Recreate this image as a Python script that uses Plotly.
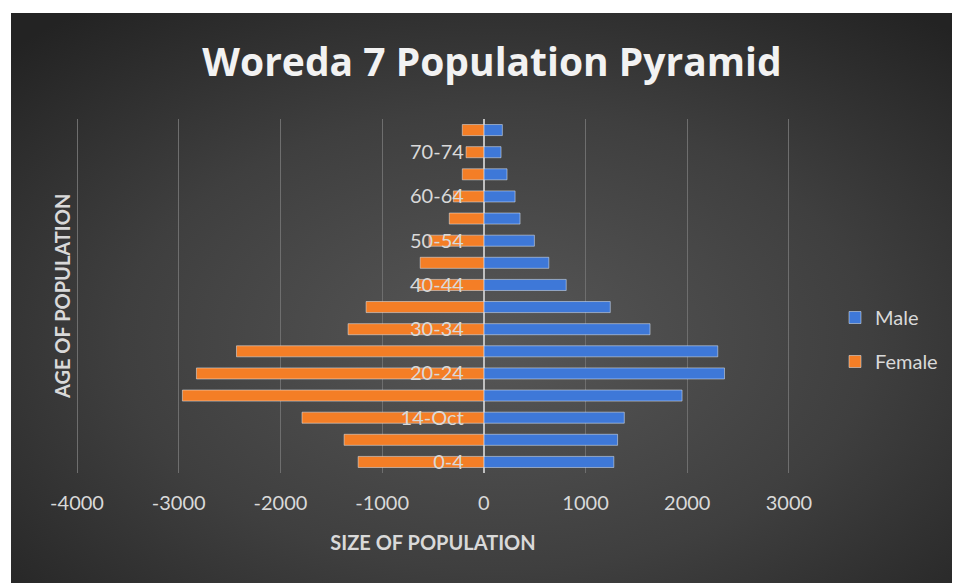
import base64
import plotly.graph_objects as go

age_groups = ["0-4", "5-9", "14-Oct", "15-19", "20-24", "25-29", "30-34", "35-39",
              "40-44", "45-49", "50-54", "55-59", "60-64", "65-69", "70-74", "75+"]
male = [1278, 1315, 1381, 1949, 2366, 2300, 1634, 1243,
        810, 639, 497, 356, 307, 228, 169, 182]
female = [1236, 1374, 1788, 2964, 2826, 2432, 1335, 1158,
          640, 626, 540, 340, 300, 212, 175, 212]
x_ticks = [-4000, -3000, -2000, -1000, 0, 1000, 2000, 3000]

FONT = "Lato, 'Open Sans', sans-serif"
TEXT = "#D9D9D9"

# page body has an 8px margin, so the figure is laid out 8px in from the window
W, H = 952, 575
L, R, T, B = 67, 783, 111, 465
pw, ph = R - L, B - T


def background_uri() -> str:
    svg = (
        '<svg xmlns="http://www.w3.org/2000/svg" width="950" height="570" preserveAspectRatio="none">'
        '<defs><radialGradient id="g" cx="50%" cy="55%" r="70%">'
        '<stop offset="0%" stop-color="#575757"/>'
        '<stop offset="55%" stop-color="#3f3f3f"/>'
        '<stop offset="100%" stop-color="#232323"/>'
        '</radialGradient></defs>'
        '<rect width="950" height="570" fill="url(#g)"/></svg>'
    )
    return "data:image/svg+xml;base64," + base64.b64encode(svg.encode()).decode()


def plot_pyramid() -> go.Figure:
    figure = go.Figure()
    figure.add_trace(go.Bar(y=age_groups, x=male, orientation="h", name="Male",
                            marker=dict(color="#3E78D8"), legendgroup="m"))
    figure.add_trace(go.Bar(y=age_groups, x=[-v for v in female], orientation="h", name="Female",
                            marker=dict(color="#F47E26"), legendgroup="f"))

    x_range = [x_ticks[0] - 20, x_ticks[-1] + 20]
    zero_pos = (0 - x_range[0]) / (x_range[1] - x_range[0])

    figure.update_layout(
        width=W, height=H,
        margin=dict(l=L, r=W - R, t=T, b=H - B),
        paper_bgcolor="white",
        plot_bgcolor="rgba(0,0,0,0)",
        barmode="relative",
        bargap=0.5,
        font=dict(family=FONT, color=TEXT, size=20),
        title=dict(text="<b>Woreda 7 Population Pyramid</b>", x=484 / W, xanchor="center",
                   y=1 - 54 / H, yanchor="middle",
                   font=dict(family="'Open Sans', sans-serif", size=39, color="#F2F2F2")),
        xaxis=dict(range=x_range, tickvals=x_ticks, ticktext=[str(v) for v in x_ticks],
                   showgrid=True, gridcolor="#6e6e6e", gridwidth=1,
                   zeroline=True, zerolinecolor="#BFBFBF", zerolinewidth=2,
                   showline=False, ticks="", ticklabelstandoff=16,
                   tickfont=dict(size=20, color=TEXT),
                   title=dict(text="<b>SIZE OF POPULATION</b>", standoff=22,
                              font=dict(size=20, color=TEXT))),
        yaxis=dict(type="category", categoryorder="array", categoryarray=age_groups,
                   range=[-0.5, len(age_groups) - 0.5],
                   tickvals=age_groups[::2], ticktext=age_groups[::2],
                   anchor="free", position=zero_pos, side="left",
                   showgrid=False, zeroline=False, showline=False, ticks="",
                   ticklabelstandoff=20, tickfont=dict(size=20, color=TEXT)),
        legend=dict(x=(827 - L) / pw, xanchor="left", y=(B - 290) / ph, yanchor="top",
                    font=dict(size=20, color=TEXT), bgcolor="rgba(0,0,0,0)",
                    tracegroupgap=15, itemwidth=30),
        showlegend=True,
    )

    figure.add_annotation(text="<b>AGE OF POPULATION</b>", textangle=-90,
                          xref="paper", yref="paper", x=(54 - L) / pw, y=(B - 289) / ph,
                          xanchor="center", yanchor="middle",
                          showarrow=False, font=dict(size=20, color=TEXT))

    figure.add_layout_image(dict(source=background_uri(), xref="paper", yref="paper",
                                 x=(3 - L) / pw, y=(B - 5) / ph,
                                 sizex=(W + 20) / pw, sizey=(H + 20) / ph,
                                 xanchor="left", yanchor="top", sizing="stretch", layer="below"))
    return figure


fig = plot_pyramid()
fig.write_html("out.html")
